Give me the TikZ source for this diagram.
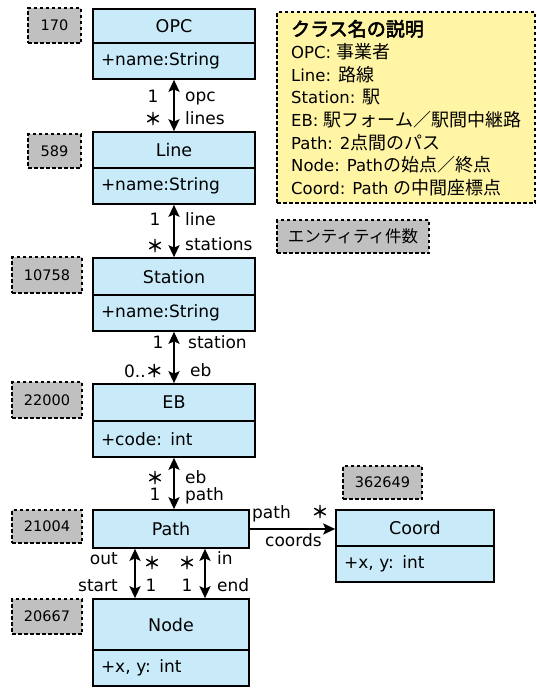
\documentclass[tikz,border=0pt]{standalone}
\usepackage{fontspec}
\setmainfont{DejaVu Sans}
\newfontfamily\jpf{Noto Sans CJK JP}
\newfontfamily\jpbf{Noto Sans CJK JP}[FakeBold=3]
\newfontfamily\astf{Noto Sans CJK JP}[FakeBold=2]
\newcommand\JP[1]{{\jpf\fontsize{18}{20}\selectfont #1}}
\newcommand\AST{{\astf\fontsize{17}{18}\selectfont ＊}}
\usetikzlibrary{arrows.meta}
\definecolor{clsfill}{HTML}{C9EAF9}
\definecolor{badgefill}{HTML}{C0C0C0}
\definecolor{legfill}{HTML}{FFF5A5}
\tikzset{
  hdr/.style={draw, fill=clsfill, line width=1.7pt, inner sep=0pt, outer sep=0pt, font=\fontsize{17.5}{20}\selectfont},
  attr/.style={draw, fill=clsfill, line width=1.7pt, anchor=north, inner xsep=8pt, inner ysep=0pt, outer sep=0pt,
    text width=#1, minimum height=36pt, align=left, font=\fontsize{17}{20}\selectfont},
  attr/.default=146pt,
  badge/.style={draw, dash pattern=on 3.5pt off 2.5pt, fill=badgefill, line width=1.6pt, inner sep=0pt,
    font=\fontsize{14.5}{16}\selectfont},
  legbox/.style={draw, dash pattern=on 3.5pt off 2.5pt, fill=legfill, line width=1.6pt, inner sep=0pt},
  lbl/.style={inner sep=0pt, font=\fontsize{17}{20}\selectfont},
  lg/.style={inner sep=0pt, anchor=base west, font=\fontsize{16.5}{19}\selectfont},
  dbl/.style={line width=2.8pt, {Stealth[length=12pt,width=11pt,inset=2.5pt]}-{Stealth[length=12pt,width=11pt,inset=2.5pt]}, shorten <=0.8pt, shorten >=0.8pt},
  sgl/.style={line width=2.8pt, -{Stealth[length=12pt,width=11pt,inset=2.5pt]}, shorten >=0.8pt},
}
\begin{document}
\begin{tikzpicture}[x=1pt,y=-1pt]
\useasboundingbox[fill=white] (0,0) rectangle (536,688);

% classes
\node[hdr, minimum width=162pt, minimum height=34pt] (opc) at (174,26) {OPC};
\node[attr] (opcA) at (opc.south) {+name:String};
\node[hdr, minimum width=162pt, minimum height=36pt] (line) at (174,150) {Line};
\node[attr] (lineA) at (line.south) {+name:String};
\node[hdr, minimum width=162pt, minimum height=37pt] (station) at (174,276.5) {Station};
\node[attr] (stationA) at (station.south) {+name:String};
\node[hdr, minimum width=162pt, minimum height=37pt] (eb) at (174,402.5) {EB};
\node[attr] (ebA) at (eb.south) {+code: int};
\node[hdr, minimum width=156pt, minimum height=38pt] (path) at (171,529) {Path};
\node[hdr, minimum width=156pt, minimum height=51pt] (nodeC) at (171,624.5) {Node};
\node[attr=140pt] (nodeA) at (nodeC.south) {+x, y: int};
\node[hdr, minimum width=158pt, minimum height=36pt] (coord) at (415,528) {Coord};
\node[attr=142pt] (coordA) at (coord.south) {+x, y: int};

% count badges
\node[badge, minimum width=53pt, minimum height=35pt] (b170) at (54.5,25.5) {170};
\node[badge, minimum width=53pt, minimum height=34pt] (b589) at (54.5,151) {589};
\node[badge, minimum width=70pt, minimum height=36pt] (b10758) at (47,275) {10758};
\node[badge, minimum width=70pt, minimum height=36pt] (b22000) at (47,400) {22000};
\node[badge, minimum width=70pt, minimum height=33pt] (b21004) at (47,526.5) {21004};
\node[badge, minimum width=70pt, minimum height=35pt] (b20667) at (47,616.5) {20667};
\node[badge, minimum width=79pt, minimum height=33pt] (b362649) at (382.5,482.5) {362649};
\node[badge, minimum width=152pt, minimum height=33pt, font=\fontsize{16.5}{18}\selectfont] (bcount) at (353,236.5) {{\jpf エンティティ件数}};

% legend
\node[legbox, minimum width=258pt, minimum height=191pt] (legend) at (406,107.5) {};
\node[lg] (lg1) at (291,36) {{\jpbf\fontsize{19}{20}\selectfont クラス名の説明}};
\node[lg] (lg2) at (291,58.6) {OPC: \JP{事業者}};
\node[lg] (lg3) at (291,81.2) {Line: \JP{路線}};
\node[lg] (lg4) at (291,103.8) {Station: \JP{駅}};
\node[lg] (lg5) at (291,126.4) {EB: \JP{駅フォーム／駅間中継路}};
\node[lg] (lg6) at (291,149) {Path: 2\JP{点間のパス}};
\node[lg] (lg7) at (291,171.6) {Node: Path\JP{の始点／終点}};
\node[lg] (lg8) at (291,194.2) {Coord: Path \JP{の中間座標点}};

% connectors
\draw[dbl] (opcA.south) -- (line.north);
\draw[dbl] (lineA.south) -- (station.north);
\draw[dbl] (stationA.south) -- (eb.north);
\draw[dbl] (ebA.south) -- (ebA.south |- path.north);
\draw[sgl] (path.east) -- (path.east -| coord.west);
\draw[dbl] ([xshift=-36pt]path.south) -- ([xshift=-36pt]nodeC.north);
\draw[dbl] ([xshift=34pt]path.south) -- ([xshift=34pt]nodeC.north);

% labels OPC-Line
\node[lbl, anchor=base] (m1) at (153,102) {1};
\node[lbl, anchor=base] (m2) at (153,125) {\AST};
\node[lbl, anchor=base west] (r1) at (185,101) {opc};
\node[lbl, anchor=base west] (r2) at (185,124) {lines};
% Line-Station
\node[lbl, anchor=base] (m3) at (155,225) {1};
\node[lbl, anchor=base] (m4) at (155,252) {\AST};
\node[lbl, anchor=base west] (r3) at (185,225) {line};
\node[lbl, anchor=base west] (r4) at (185,250) {stations};
% Station-EB
\node[lbl, anchor=base] (m5) at (158,348) {1};
\node[lbl, anchor=base east] (m6) at (163,377) {0..\AST};
\node[lbl, anchor=base west] (r5) at (188,348) {station};
\node[lbl, anchor=base west] (r6) at (190,376) {eb};
% EB-Path
\node[lbl, anchor=base] (m7) at (155,484) {\AST};
\node[lbl, anchor=base] (m8) at (155,500) {1};
\node[lbl, anchor=base west] (r7) at (185,483) {eb};
\node[lbl, anchor=base west] (r8) at (185,500) {path};
% Path-Coord
\node[lbl, anchor=base west] (p1) at (252,518) {path};
\node[lbl, anchor=base] (p2) at (320,518) {\AST};
\node[lbl, anchor=base west] (p3) at (265,546) {coords};
% Path-Node
\node[lbl, anchor=base east] (n1) at (118,564) {out};
\node[lbl, anchor=base] (n2) at (152,569) {\AST};
\node[lbl, anchor=base east] (n3) at (118,591) {start};
\node[lbl, anchor=base] (n4) at (151,591) {1};
\node[lbl, anchor=base] (n5) at (187,569) {\AST};
\node[lbl, anchor=base west] (n6) at (217,564) {in};
\node[lbl, anchor=base] (n7) at (187,591) {1};
\node[lbl, anchor=base west] (n8) at (217,591) {end};
\end{tikzpicture}
\end{document}
